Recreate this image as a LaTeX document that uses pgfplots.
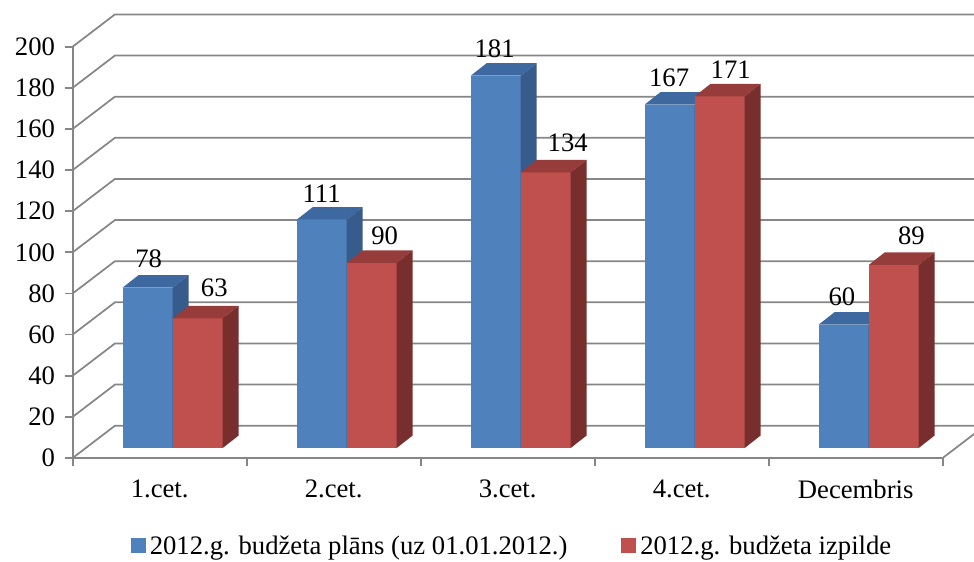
\documentclass[border=0pt]{standalone}
\usepackage{fontspec}
\setmainfont{Liberation Serif}
\usepackage{pgfplots}
\pgfplotsset{compat=1.18}
\usepackage{pgfplotstable}

\definecolor{bF}{HTML}{4F81BD}
\definecolor{bT}{HTML}{3D68A0}
\definecolor{bS}{HTML}{375B8A}
\definecolor{rF}{HTML}{C0504D}
\definecolor{rT}{HTML}{963C3A}
\definecolor{rS}{HTML}{782E2C}
\definecolor{gridc}{HTML}{868686}

% values; blx/bly, rlx/rly: label offsets (pt) of the value labels
\pgfplotstableread{
idx plan izp blx bly rlx rly
0 78 63 0.75 15 12.45 16.5
1 111 90 0 13.2 9.75 13.7
2 181 134 -0.75 13.5 16.5 15.75
3 167 171 -0.4 13.65 8.25 13.05
4 60 89 -1.3 14.25 13.3 15
}\data

\newcommand\defboxmark[4]{%
 \pgfdeclareplotmark{#1}{%
  \pgfmathsetlengthmacro\hh{\val*1.5425pt}%
  \pgfmathsetlengthmacro\hb{9.4pt-\hh}%
  \pgfsetfillcolor{#2}%
  \pgfpathrectanglecorners{\pgfpoint{0pt}{0pt}}{\pgfpoint{37.5pt}{-\hh}}%
  \pgfusepath{fill}%
  \pgfsetfillcolor{#3}%
  \pgfpathmoveto{\pgfpoint{0pt}{0pt}}%
  \pgfpathlineto{\pgfpoint{37.5pt}{0pt}}%
  \pgfpathlineto{\pgfpoint{49.5pt}{9.4pt}}%
  \pgfpathlineto{\pgfpoint{12pt}{9.4pt}}%
  \pgfpathclose\pgfusepath{fill}%
  \pgfsetfillcolor{#4}%
  \pgfpathmoveto{\pgfpoint{37.5pt}{0pt}}%
  \pgfpathlineto{\pgfpoint{49.5pt}{9.4pt}}%
  \pgfpathlineto{\pgfpoint{49.5pt}{\hb}}%
  \pgfpathlineto{\pgfpoint{37.5pt}{-\hh}}%
  \pgfpathclose\pgfusepath{fill}%
 }}
\defboxmark{boxblue}{bF}{bT}{bS}
\defboxmark{boxred}{rF}{rT}{rS}

\newcommand\chartfont{\fontsize{20}{24}\selectfont}

\begin{document}
\begin{tikzpicture}
\useasboundingbox (-54.5pt,-77.25pt) rectangle (676pt,343.5pt);
\begin{axis}[
  at={(0,0)}, anchor=south west,
  scale only axis, width=652.5pt, height=308.5pt,
  xmin=0, xmax=5, ymin=0, ymax=200,
  clip=false,
  axis x line*=bottom, axis y line*=left,
  axis line style={draw=gridc, line width=1.3pt, -},
  tick align=outside, major tick length=6pt,
  tick style={draw=gridc, line width=1.3pt},
  ytick={0,20,...,200},
  xtick={0,1,2,3,4,5},
  x tick label as interval,
  xticklabels={1.cet.,2.cet.,3.cet.,4.cet.,Decembris},
  ticklabel style={font=\chartfont, text=black},
  yticklabel style={xshift=-3.75pt},
  xticklabel style={yshift=-6.75pt},
  /pgf/number format/assume math mode=true,
  legend columns=2,
  legend cell align=left,
  legend style={at={(0.0667,-0.2149)}, anchor=west, draw=none, fill=none,
    inner sep=0pt, nodes={inner sep=0pt, font=\chartfont},
    /tikz/every odd column/.append style={column sep=3.2pt},
    /tikz/every even column/.append style={column sep=40.5pt}},
]
\pgfplotsinvokeforeach{0,20,...,200}{%
  \draw[gridc, line width=1.3pt] (axis cs:0,#1) -- ([shift={(31.7pt,24.2pt)}]axis cs:0,#1) -- ([shift={(31.7pt,24.2pt)}]axis cs:5.5,#1);
}
\draw[gridc, line width=1.3pt] (axis cs:5,0) -- ([shift={(31.7pt,24.2pt)}]axis cs:5,0);

\addplot[scatter, only marks, mark=boxblue,
  visualization depends on={\thisrow{plan} \as \val},
  visualization depends on={\thisrow{blx} \as \lx},
  visualization depends on={\thisrow{bly} \as \ly},
  point meta=\thisrow{plan},
  nodes near coords,
  every node near coord/.append style={anchor=base, xshift=18.75pt+\lx pt, yshift=\ly pt, font=\chartfont, inner sep=0pt, text=black},
  legend image code/.code={\fill[bF] (0pt,-4.5pt) rectangle (10.5pt,6pt);}]
  table[x expr=\thisrow{idx}+0.5+0.0747-0.2874, y expr=\thisrow{plan}+4.86] {\data};
\addlegendentry{2012.g. budžeta plāns (uz 01.01.2012.)}

\addplot[scatter, only marks, mark=boxred,
  visualization depends on={\thisrow{izp} \as \val},
  visualization depends on={\thisrow{rlx} \as \lx},
  visualization depends on={\thisrow{rly} \as \ly},
  point meta=\thisrow{izp},
  nodes near coords,
  every node near coord/.append style={anchor=base, xshift=18.75pt+\lx pt, yshift=\ly pt, font=\chartfont, inner sep=0pt, text=black},
  legend image code/.code={\fill[rF] (0pt,-4.5pt) rectangle (10.5pt,6pt);}]
  table[x expr=\thisrow{idx}+0.5+0.0747, y expr=\thisrow{izp}+4.86] {\data};
\addlegendentry{2012.g. budžeta izpilde}
\end{axis}
\end{tikzpicture}
\end{document}
